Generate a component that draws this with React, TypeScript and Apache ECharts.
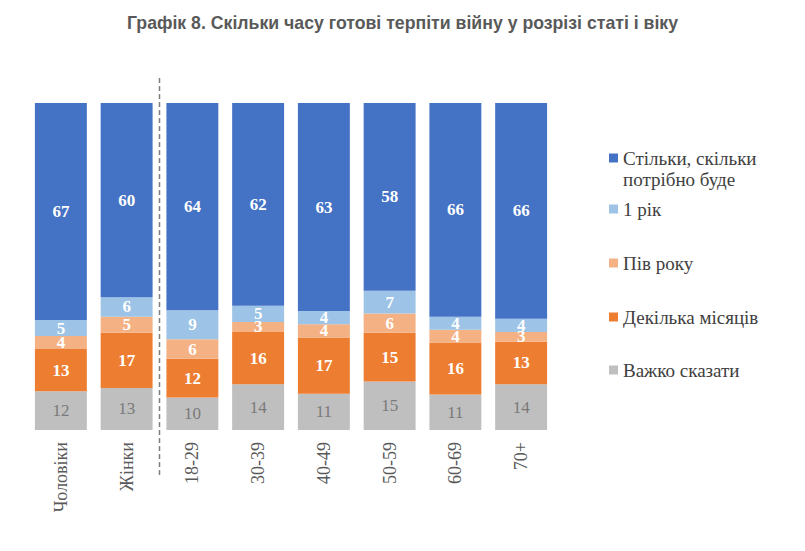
import React from "react";
import * as echarts from "echarts";

const categories = ["Чоловіки", "Жінки", "18-29", "30-39", "40-49", "50-59", "60-69", "70+"];
const hardToSay = [12, 13, 10, 14, 11, 15, 11, 14];
const fewMonths = [13, 17, 12, 16, 17, 15, 16, 13];
const halfYear = [4, 5, 6, 3, 4, 6, 4, 3];
const oneYear = [5, 6, 9, 5, 4, 7, 4, 4];
const asLongAsNeeded = [67, 60, 64, 62, 63, 58, 66, 66];

const seriesDefs = [
    { name: "Важко сказати", data: hardToSay, color: "#BFBFBF", labelColor: "#7A7A7A", bold: false },
    { name: "Декілька місяців", data: fewMonths, color: "#ED7D31", labelColor: "#FFFFFF", bold: true },
    { name: "Пів року", data: halfYear, color: "#F4B183", labelColor: "#FFFFFF", bold: true },
    { name: "1 рік", data: oneYear, color: "#9DC3E6", labelColor: "#FFFFFF", bold: true },
    { name: "Стільки, скільки потрібно буде", data: asLongAsNeeded, color: "#4472C4", labelColor: "#FFFFFF", bold: true },
];

const serif = "Liberation Serif";

const App: React.FC = () => {
    const chartRef = React.useRef<HTMLDivElement>(null);

    React.useEffect(() => {
        if (!chartRef.current) return;
        document.body.style.margin = "0";

        const chart = echarts.init(chartRef.current, null, { renderer: "svg" });

        const totals = categories.map((_, i) =>
            seriesDefs.reduce((s, d) => s + d.data[i], 0)
        );

        // icon centres of the legend rows, top to bottom
        const legendCentres = [158, 209, 263, 317, 370];
        const lh = 21;
        const legends = [...seriesDefs].reverse().map((d, i) => {
            const multi = i === 0;
            return {
                data: [d.name],
                orient: "vertical",
                left: 609,
                top: multi ? legendCentres[i] - lh * 1.5 : legendCentres[i] - lh / 2,
                padding: 0,
                itemWidth: 9,
                itemHeight: 9,
                icon: "rect",
                selectedMode: false,
                // blank first row keeps the icon level with the first text line
                formatter: multi
                    ? () => "{e| }\n{a|Стільки, скільки}\n{a|потрібно буде}"
                    : undefined,
                textStyle: {
                    fontFamily: serif,
                    fontSize: 19,
                    color: "#404040",
                    lineHeight: lh,
                    rich: {
                        e: { fontSize: 19, lineHeight: lh },
                        a: { fontFamily: serif, fontSize: 19, color: "#404040", lineHeight: lh },
                    },
                },
            };
        });

        const option = {
            animation: false,
            title: {
                text: "Графік 8. Скільки часу готові терпіти війну у розрізі статі і віку",
                left: "center",
                top: 9,
                textStyle: {
                    fontFamily: "Liberation Sans",
                    fontWeight: "bold",
                    fontSize: 17.7,
                    color: "#595959",
                },
            },
            legend: legends,
            grid: {
                left: 28,
                right: 251,
                top: 103,
                bottom: 121,
                containLabel: false,
            },
            xAxis: {
                type: "category",
                data: categories,
                axisLine: { show: false },
                axisTick: { show: false },
                axisLabel: {
                    rotate: 90,
                    margin: 12,
                    fontFamily: serif,
                    fontSize: 18,
                    color: "#595959",
                },
            },
            yAxis: {
                type: "value",
                min: 0,
                max: 100,
                show: false,
            },
            series: seriesDefs.map((d) => ({
                name: d.name,
                type: "bar",
                stack: "total",
                barCategoryGap: "21%",
                itemStyle: { color: d.color },
                data: d.data.map((v, i) => (v / totals[i]) * 100),
                label: {
                    show: true,
                    position: "inside",
                    fontFamily: serif,
                    fontSize: 17,
                    fontWeight: d.bold ? "bold" : "normal",
                    color: d.labelColor,
                    formatter: (p: any) => String(d.data[p.dataIndex]),
                },
            })),
        };

        chart.setOption(option as any);

        // dashed divider between the gender and age groups
        const xa = chart.convertToPixel({ xAxisIndex: 0 }, categories[1]) as number;
        const xb = chart.convertToPixel({ xAxisIndex: 0 }, categories[2]) as number;
        const xMid = (xa + xb) / 2;
        chart.setOption({
            graphic: [
                {
                    type: "line",
                    shape: { x1: xMid, y1: 78, x2: xMid, y2: 475 },
                    style: { stroke: "#7F7F7F", lineWidth: 1.5, lineDash: [5, 3] },
                },
            ],
        } as any);

        return () => {
            chart.dispose();
        };
    }, []);

    return <div ref={chartRef} style={{ width: "805px", height: "551px" }} />;
};

export default App;
